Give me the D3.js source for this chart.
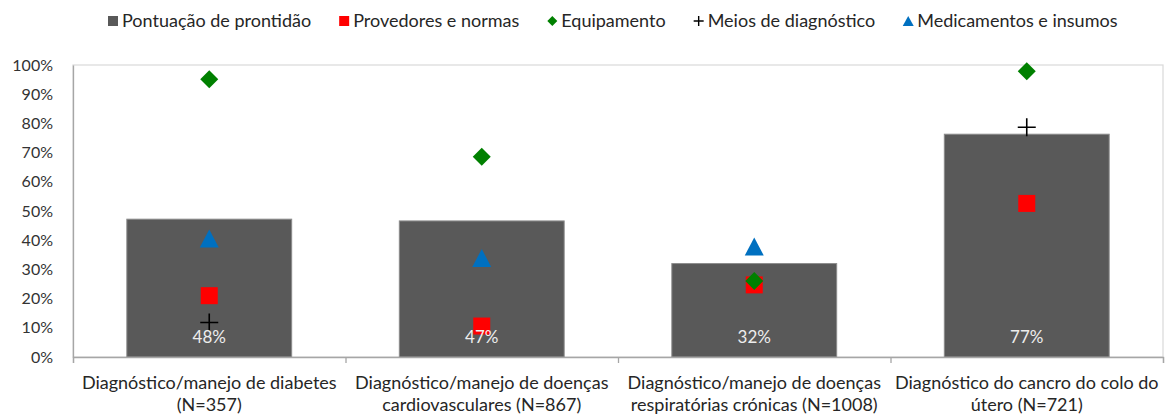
<!DOCTYPE html>
<html>
<head>
<meta charset="utf-8">
<script src="https://cdn.jsdelivr.net/npm/d3@7"></script>
<style>
  html, body { margin: 0; padding: 0; background: #fff; }
  svg { display: block; font-family: Lato, "Open Sans", sans-serif; }
</style>
</head>
<body>
<svg id="chart" width="1165" height="415"></svg>
<script>
// ---- data ----
const categories = [
  ["Diagnóstico/manejo de diabetes", "(N=357)"],
  ["Diagnóstico/manejo de doenças", "cardiovasculares (N=867)"],
  ["Diagnóstico/manejo de doenças", "respiratórias crónicas (N=1008)"],
  ["Diagnóstico do cancro do colo do", "útero (N=721)"]
];
const prontidao = [0.472, 0.466, 0.32, 0.763];
const prontidaoLabels = ["48%", "47%", "32%", "77%"];
const provedores = [0.21, 0.106, 0.247, 0.526];
const equipamento = [0.951, 0.686, 0.26, 0.979];
const meios = [0.118, null, null, 0.787];
const medicamentos = [0.406, 0.339, 0.378, null];
const yTicks = [0, 0.1, 0.2, 0.3, 0.4, 0.5, 0.6, 0.7, 0.8, 0.9, 1.0];
const seriesNames = ["Pontuação de prontidão", "Provedores e normas", "Equipamento", "Meios de diagnóstico", "Medicamentos e insumos"];

// ---- layout ----
const svg = d3.select("#chart");
const L = 73, R = 1163, T = 65, B = 357;
const catIdx = d3.range(categories.length);
const x = d3.scaleBand().domain(catIdx).range([L, R]).padding(0);
const y = d3.scaleLinear().domain([0, 1]).range([B, T]);
const barW = x.bandwidth() * 0.605;
const cx = i => x(i) + x.bandwidth() / 2;

// plot frame
svg.append("rect").attr("x", L).attr("y", T).attr("width", R - L).attr("height", B - T)
  .attr("fill", "none").attr("stroke", "#d9d9d9").attr("stroke-width", 1.2);

// bars
svg.append("g").selectAll("rect").data(catIdx).join("rect")
  .attr("x", i => cx(i) - barW / 2)
  .attr("y", i => y(prontidao[i]))
  .attr("width", barW)
  .attr("height", i => y(0) - y(prontidao[i]))
  .attr("fill", "#595959")
  .attr("stroke", "#8c8c8c").attr("stroke-width", 1);

// y axis
const yAxis = d3.axisLeft(y).tickValues(yTicks).tickFormat(d3.format(".0%")).tickSize(0).tickPadding(20);
const gy = svg.append("g").attr("transform", `translate(${L},0)`).call(yAxis);
gy.select(".domain").attr("stroke", "#a6a6a6").attr("stroke-width", 1.3);
gy.selectAll("text").attr("font-size", 16).attr("fill", "#333").attr("font-family", "Lato, sans-serif");

// x axis
const xb = d3.scaleLinear().domain([0, categories.length]).range([L, R]);
const xAxis = d3.axisBottom(xb).tickValues(d3.range(categories.length + 1)).tickSize(6).tickFormat("");
const gx = svg.append("g").attr("transform", `translate(0,${B})`).call(xAxis);
gx.select(".domain").attr("stroke", "#a6a6a6").attr("stroke-width", 1.3);
gx.selectAll(".tick line").attr("stroke", "#a6a6a6").attr("stroke-width", 1.3);

const xl = svg.append("g").selectAll("text").data(catIdx).join("text")
  .attr("x", cx).attr("y", 389)
  .attr("text-anchor", "middle").attr("font-size", 18).attr("fill", "#262626");
xl.append("tspan").attr("x", cx).attr("dy", 0).text(i => categories[i][0]);
xl.append("tspan").attr("x", cx).attr("dy", 22).text(i => categories[i][1]);

// markers
const marks = svg.append("g");
const pts = (arr) => catIdx.filter(i => arr[i] != null);

marks.selectAll(".sq").data(pts(provedores)).join("rect").attr("class", "sq")
  .attr("x", i => cx(i) - 8.5).attr("y", i => y(provedores[i]) - 8.5)
  .attr("width", 17).attr("height", 17).attr("fill", "#ff0000");

marks.selectAll(".tri").data(pts(medicamentos)).join("path").attr("class", "tri")
  .attr("transform", i => `translate(${cx(i)},${y(medicamentos[i])})`)
  .attr("d", "M0,-9 L9.5,9 L-9.5,9 Z").attr("fill", "#0070c0");

marks.selectAll(".dia").data(pts(equipamento)).join("path").attr("class", "dia")
  .attr("transform", i => `translate(${cx(i)},${y(equipamento[i])})`)
  .attr("d", "M0,-9 L9,0 L0,9 L-9,0 Z").attr("fill", "#008000");

marks.selectAll(".plus").data(pts(meios)).join("path").attr("class", "plus")
  .attr("transform", i => `translate(${cx(i)},${y(meios[i])})`)
  .attr("d", "M-9,0 H9 M0,-9 V9").attr("stroke", "#000").attr("stroke-width", 1.6).attr("fill", "none");

// bar labels
svg.append("g").selectAll("text").data(catIdx).join("text")
  .attr("x", cx).attr("y", 343)
  .attr("text-anchor", "middle").attr("font-size", 17).attr("fill", "#ededed")
  .text(i => prontidaoLabels[i]);

// legend
const legColors = ["#595959", "#ff0000", "#008000", "#000", "#0070c0"];
const legShapes = ["square", "square", "diamond", "plus", "triangle"];
const leg = svg.append("g");
let lx = 108;
const gap = 28;
seriesNames.forEach((name, k) => {
  const g = leg.append("g").attr("transform", `translate(${lx},21)`);
  const s = legShapes[k];
  if (s === "square") g.append("rect").attr("x", 0).attr("y", -5).attr("width", 10).attr("height", 10).attr("fill", legColors[k]);
  else if (s === "diamond") g.append("path").attr("d", "M5,-5 L10,0 L5,5 L0,0 Z").attr("fill", legColors[k]);
  else if (s === "plus") g.append("path").attr("d", "M0,0 H10 M5,-5 V5").attr("stroke", legColors[k]).attr("stroke-width", 1.4);
  else g.append("path").attr("d", "M5,-5 L10.5,5 L-0.5,5 Z").attr("fill", legColors[k]);
  const t = g.append("text").attr("x", 14).attr("y", 6).attr("font-size", 18).attr("fill", "#262626").text(name);
  lx += 14 + t.node().getComputedTextLength() + gap;
});
</script>
</body>
</html>
